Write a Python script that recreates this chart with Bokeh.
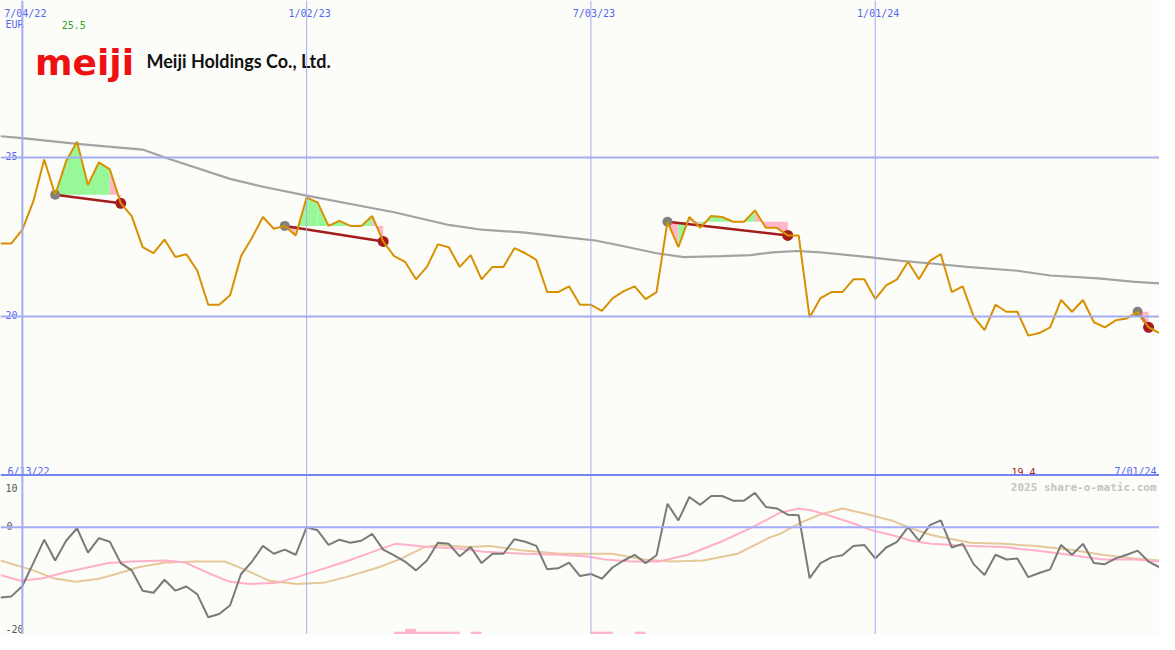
from bokeh.plotting import figure
from bokeh.models import Range1d, Span
from bokeh.embed import file_html
from bokeh.resources import INLINE
from bokeh.core.properties import value

# ---------------- data ----------------
# weekly closing prices (EUR), week 0 = 6/20/22 ... week 106 = 7/01/24
price = [22.30, 22.30, 22.73, 23.62, 24.94, 23.83, 24.88, 25.50, 24.14, 24.85,
         24.63, 23.56, 23.16, 22.18, 21.99, 22.42, 21.87, 21.96, 21.44, 20.37,
         20.37, 20.67, 21.90, 22.48, 23.13, 22.76, 22.85, 22.55, 23.74, 23.59,
         22.85, 23.01, 22.85, 22.85, 23.16, 22.36, 21.90, 21.72, 21.17, 21.56,
         22.27, 22.18, 21.56, 21.93, 21.17, 21.56, 21.56, 22.15, 21.99, 21.78,
         20.77, 20.77, 20.95, 20.37, 20.37, 20.18, 20.58, 20.80, 20.95, 20.55,
         20.77, 22.98, 22.18, 23.13, 22.79, 23.16, 23.13, 22.98, 22.98, 23.34,
         22.79, 22.79, 22.55, 22.55, 19.97, 20.58, 20.77, 20.77, 21.17, 21.17,
         20.55, 20.98, 21.17, 21.72, 21.17, 21.75, 21.96, 20.77, 20.95, 20.00,
         19.57, 20.37, 20.15, 20.15, 19.40, 19.48, 19.66, 20.52, 20.15, 20.52,
         19.82, 19.66, 19.88, 19.94, 20.15, 19.66, 19.48]
weeks = list(range(len(price)))

# long moving average (read at sample weeks)
ma_weeks = [0, 2, 7, 13, 15.3, 21, 24, 28, 36, 41, 44, 48, 52, 54.4, 57, 60, 62.5,
            66, 68.6, 70.6, 72.8, 75, 79.4, 82.4, 85.4, 88.4, 93, 96, 100.4, 103.5, 106]
ma_vals = [25.67, 25.61, 25.43, 25.25, 24.97, 24.33, 24.08, 23.80, 23.28, 22.88, 22.73,
           22.64, 22.48, 22.39, 22.21, 21.99, 21.87, 21.90, 21.93, 22.02, 22.06, 22.02,
           21.87, 21.75, 21.66, 21.56, 21.44, 21.29, 21.20, 21.10, 21.04]

# trades (entry / exit week index)
entry_idx = [5, 26, 61, 104]
exit_idx = [11, 35, 72, 105]

# oscillator panel
momentum = [-13.5, -13.3, -11.3, -6.9, -2.4, -6.4, -2.6, -0.2, -4.9, -2.1,
            -2.8, -6.9, -8.3, -12.2, -12.6, -10.1, -12.2, -11.4, -12.9, -17.3,
            -16.7, -15.0, -9.0, -6.6, -3.6, -5.1, -4.3, -5.3, 0.0, -0.6,
            -3.4, -2.4, -3.0, -2.6, -1.3, -4.3, -5.4, -6.6, -8.3, -6.4,
            -3.0, -3.2, -5.6, -3.8, -6.9, -5.1, -5.1, -2.3, -2.8, -3.6,
            -8.1, -7.9, -6.8, -9.4, -9.0, -9.9, -7.7, -6.4, -5.3, -6.9,
            -5.4, 4.5, 1.3, 5.8, 4.3, 6.0, 6.0, 5.1, 5.1, 6.6,
            3.9, 3.6, 2.4, 2.3, -9.8, -6.9, -5.8, -5.4, -3.6, -3.4,
            -6.0, -3.9, -2.8, 0.0, -2.6, 0.4, 1.3, -3.9, -3.2, -7.1,
            -9.2, -5.3, -6.2, -6.0, -9.6, -8.8, -8.1, -3.4, -5.3, -3.2,
            -6.9, -7.1, -6.0, -5.3, -4.5, -6.6, -7.7]

sig_pink_weeks = [0, 1.8, 3.9, 6.0, 7.2, 9.9, 12.0, 15.1, 16.9, 19.2, 21.0, 22.8, 25.3,
                  27.1, 28.9, 31.6, 34.6, 36.1, 37.3, 39.1, 41.8, 44.2, 47.8, 51.2, 53.5,
                  55.3, 57.7, 60.2, 62.9, 65.9, 68.8, 71.3, 73.0, 74.2, 76.0, 77.9, 79.7,
                  81.5, 83.3, 85.1, 88.7, 91.7, 94.7, 97.7, 100.8, 103.7, 106]
sig_pink_vals = [-9.2, -10.3, -9.8, -8.6, -8.1, -6.9, -6.6, -6.4, -6.8, -9.0, -10.5, -10.9,
                 -10.7, -9.6, -8.4, -6.6, -4.3, -3.2, -3.4, -3.8, -4.1, -4.7, -5.1, -5.3,
                 -5.6, -6.2, -6.6, -6.6, -5.3, -2.8, 0.0, 2.8, 3.6, 3.2, 2.1, 0.8, -0.6,
                 -1.5, -2.6, -3.2, -3.6, -3.8, -4.5, -5.3, -6.2, -6.2, -6.6]

sig_tan_weeks = [0, 3.0, 4.8, 6.9, 9.0, 10.6, 12.6, 15.1, 18.0, 20.5, 22.3, 24.6, 27.1,
                 29.5, 31.6, 34.6, 36.7, 38.8, 40.3, 42.7, 44.8, 47.8, 51.2, 54.1, 55.9,
                 58.9, 61.3, 64.3, 67.4, 70.4, 71.3, 73.1, 74.9, 77.0, 79.1, 81.5, 83.0,
                 85.1, 88.7, 91.7, 94.7, 97.7, 100.8, 103.7, 106]
sig_tan_vals = [-6.4, -8.3, -9.8, -10.5, -9.9, -9.0, -7.7, -6.8, -6.6, -6.6, -8.1, -10.3,
                -10.9, -10.7, -9.6, -7.7, -6.0, -3.8, -3.4, -3.8, -3.6, -4.5, -5.1, -5.1,
                -5.1, -6.2, -6.6, -6.4, -5.1, -1.9, -1.3, 0.8, 2.4, 3.6, 2.6, 1.3, 0.0,
                -1.5, -3.0, -3.2, -3.6, -4.3, -5.3, -6.0, -6.4]

vol_weeks = [36.5, 37.5, 38.5, 39.5, 40.5, 41.5, 43.5, 54.5, 55.5, 58.5]
vol_vals = [0.55, 1.1, 0.55, 0.55, 0.55, 0.55, 0.55, 0.55, 0.55, 0.55]

date_weeks = [2, 28, 54, 80]
date_labels = ["7/04/22", "1/02/23", "7/03/23", "1/01/24"]
price_ticks = [25, 20]
price_tick_labels = ["25", "20"]
osc_tick_labels = ["10", "0", "-20"]
range_start_label = "6/13/22"
range_end_label = "7/01/24"
max_label = "25.5"
min_label = "19.4"
currency = "EUR"
company = "Meiji Holdings Co., Ltd."
logo = "meiji"
watermark = "2025 share-o-matic.com"

# ---------------- layout helpers (reference-pixel -> data) ----------------
W = 1159
H = 634
NW = 106.0


def wk(xpx):
    return xpx * NW / 1175.0


def pv(ypx):
    return 25 - (ypx - 161) / 32.6


def ov(ypx):
    return (540 - ypx) / 5.333


BG = "#fcfdf9"
GRID = "#a4acf2"
BLUE = "#5566ee"
ORANGE = "#d99000"
DARKRED = "#a41c1c"
GREEN_FILL = "#98f898"
PINK_FILL = "#ffb6c8"
MONO = value("DejaVu Sans Mono")

p = figure(width=W, height=H, x_range=Range1d(0, NW), y_range=Range1d(pv(650), pv(0)),
           x_axis_location=None, y_axis_location=None, toolbar_location=None,
           output_backend="svg", min_border=0, background_fill_color=BG,
           border_fill_color=BG, outline_line_color=None)
p.extra_y_ranges = {"osc": Range1d(ov(650), ov(0))}
p.grid.visible = False
p.xgrid.visible = False
p.ygrid.visible = False

# grid lines
for i, w in enumerate(date_weeks):
    p.add_layout(Span(location=w, dimension="height", line_color=GRID,
                      line_width=2 if i == 0 else 1))
for t in price_ticks:
    p.add_layout(Span(location=t, dimension="width", line_color=GRID, line_width=2))
p.add_layout(Span(location=pv(486.5), dimension="width", line_color="#7484f0", line_width=2))
p.add_layout(Span(location=0, dimension="width", line_color=GRID, line_width=2,
                  y_range_name="osc"))

# ---------------- price panel ----------------
fx, fy, fc = [], [], []
for e, x in zip(entry_idx, exit_idx):
    lvl = price[e]
    for k in range(e, x):
        fx.append([weeks[k], weeks[k], weeks[k + 1], weeks[k + 1]])
        fy.append([lvl, price[k], price[k + 1], lvl])
        fc.append(GREEN_FILL if price[k + 1] >= lvl else PINK_FILL)
p.patches(fx, fy, fill_color=fc, line_color=None)

p.line(ma_weeks, ma_vals, line_color="#a3a3a3", line_width=2.2)

p.segment(x0=[weeks[e] for e in entry_idx], y0=[price[e] for e in entry_idx],
          x1=[weeks[x] for x in exit_idx], y1=[price[x] for x in exit_idx],
          line_color=DARKRED, line_width=2.5)
p.scatter([weeks[e] for e in entry_idx], [price[e] for e in entry_idx], size=10,
          fill_color="#808080", line_color=None)
p.scatter([weeks[x] for x in exit_idx], [price[x] for x in exit_idx], size=11,
          fill_color=DARKRED, line_color=None)

p.line(weeks, price, line_color=ORANGE, line_width=2)

# ---------------- oscillator panel ----------------
bottom = p.extra_y_ranges["osc"].start
p.vbar(x=vol_weeks, width=1, bottom=bottom, top=[bottom + v for v in vol_vals],
       fill_color="#ffb6c8", line_color=None, y_range_name="osc")
p.line(sig_tan_weeks, sig_tan_vals, line_color="#e6c898", line_width=2, y_range_name="osc")
p.line(sig_pink_weeks, sig_pink_vals, line_color="#ffb0c8", line_width=2, y_range_name="osc")
p.line(weeks, momentum, line_color="#7a7a7a", line_width=2, y_range_name="osc")

# ---------------- texts ----------------
p.text(x=[w + wk(3) for w in date_weeks], y=[pv(13)] * len(date_weeks), text=date_labels,
       text_font=MONO, text_font_size="10px", text_color=BLUE,
       text_align="center", text_baseline="alphabetic")
p.text(x=[wk(5)] * 2, y=[t + pv(159) - 25 for t in price_ticks], text=price_tick_labels,
       text_font=MONO, text_font_size="10px", text_color=BLUE,
       text_align="left", text_baseline="alphabetic")
p.text(x=[wk(5)], y=[pv(25)], text=[currency], text_font=MONO, text_font_size="10px",
       text_color=BLUE, text_align="left", text_baseline="alphabetic")
p.text(x=[wk(62)], y=[pv(25)], text=[max_label], text_font=MONO, text_font_size="10px",
       text_color="#2e9e2e", text_align="left", text_baseline="alphabetic")
p.text(x=[wk(7)], y=[pv(483)], text=[range_start_label], text_font=MONO,
       text_font_size="10px", text_color=BLUE, text_align="left", text_baseline="alphabetic")
p.text(x=[wk(1172)], y=[pv(483)], text=[range_end_label], text_font=MONO,
       text_font_size="10px", text_color=BLUE, text_align="right", text_baseline="alphabetic")
p.text(x=[wk(1025)], y=[pv(483)], text=[min_label], text_font=MONO,
       text_font_size="10px", text_color=DARKRED, text_align="left", text_baseline="alphabetic")
p.text(x=[wk(35)], y=[pv(64)], text=[logo], text_font=value("DejaVu Sans"),
       text_font_style="bold", text_font_size="36px", text_color="#ee1111",
       text_align="left", text_baseline="alphabetic")
p.text(x=[wk(148)], y=[pv(62)], text=[company], text_font=value("Lato"),
       text_font_style="bold", text_font_size="18px", text_color="#111111",
       text_align="left", text_baseline="alphabetic")

p.text(x=[wk(5), wk(6), wk(5)], y=[ov(500), ov(539), ov(644)], text=osc_tick_labels,
       text_font=MONO, text_font_size="10px", text_color="#555555",
       text_align="left", text_baseline="alphabetic", y_range_name="osc")
p.text(x=[wk(1172)], y=[ov(499)], text=[watermark], text_font=MONO,
       text_font_style="bold", text_font_size="11px", text_color="#c4c4c4",
       text_align="right", text_baseline="alphabetic", y_range_name="osc")

open("out.html", "w").write(file_html(p, INLINE))
